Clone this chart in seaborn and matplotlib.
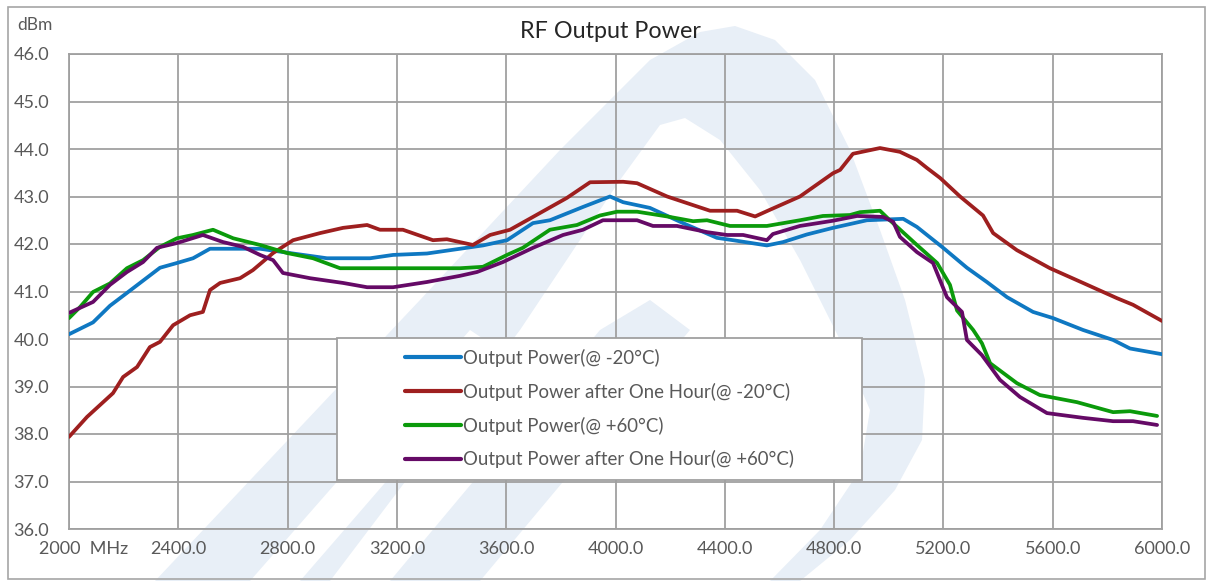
import numpy as np
import pandas as pd
import matplotlib
matplotlib.use('Agg')
import matplotlib.pyplot as plt
import matplotlib.transforms as mtransforms
from matplotlib.patches import Polygon, Rectangle
import seaborn as sns

# series names
labels = ['Output Power(@ -20°C)',
          'Output Power after One Hour(@ -20°C)',
          'Output Power(@ +60°C)',
          'Output Power after One Hour(@ +60°C)']

# Output Power @ -20C
freq_a = [2000, 2088, 2150, 2212, 2333, 2395, 2454, 2516, 2699, 2820, 2944, 3102, 3186, 3310,
          3431, 3515, 3603, 3698, 3760, 3881, 3980, 4028, 4126, 4247, 4371, 4430, 4554, 4613,
          4700, 4796, 4920, 5053, 5103, 5199, 5286, 5359, 5433, 5528, 5601, 5711, 5821, 5883, 6000]
pwr_a = [40.1, 40.35, 40.7, 40.97, 41.5, 41.6, 41.7, 41.9, 41.9, 41.8, 41.7, 41.7, 41.77, 41.8,
         41.9, 41.97, 42.08, 42.44, 42.5, 42.78, 43.0, 42.88, 42.76, 42.44, 42.13, 42.08, 41.97, 42.04,
         42.2, 42.34, 42.5, 42.53, 42.36, 41.92, 41.5, 41.2, 40.88, 40.57, 40.44, 40.19, 39.98, 39.8, 39.68]

# after one hour @ -20C
freq_b = [2000, 2066, 2161, 2198, 2249, 2296, 2333, 2381, 2443, 2490, 2516, 2553, 2626, 2673,
          2747, 2820, 2919, 3003, 3091, 3138, 3222, 3332, 3383, 3478, 3541, 3614, 3698, 3822,
          3907, 4028, 4079, 4189, 4346, 4445, 4511, 4565, 4675, 4796, 4822, 4869, 4968, 5041,
          5103, 5140, 5188, 5261, 5345, 5382, 5469, 5590, 5711, 5835, 5894, 6000]
pwr_b = [37.94, 38.36, 38.86, 39.2, 39.41, 39.83, 39.94, 40.29, 40.5, 40.57, 41.03, 41.18, 41.28, 41.45,
         41.81, 42.08, 42.23, 42.34, 42.4, 42.3, 42.3, 42.08, 42.1, 41.98, 42.19, 42.3, 42.57, 42.97,
         43.3, 43.31, 43.28, 43.0, 42.7, 42.7, 42.58, 42.72, 43.0, 43.49, 43.56, 43.9, 44.02, 43.94,
         43.77, 43.6, 43.39, 43.0, 42.6, 42.23, 41.87, 41.49, 41.18, 40.86, 40.72, 40.38]

# Output Power @ +60C
freq_c = [2000, 2040, 2088, 2150, 2212, 2271, 2333, 2395, 2454, 2527, 2601, 2699, 2798, 2893,
          2992, 3186, 3431, 3515, 3603, 3661, 3760, 3859, 3943, 4006, 4079, 4189, 4284, 4335,
          4419, 4554, 4675, 4759, 4858, 4895, 4968, 5004, 5103, 5177, 5224, 5250, 5309, 5341,
          5371, 5469, 5553, 5689, 5821, 5883, 5982]
pwr_c = [40.44, 40.67, 40.99, 41.17, 41.49, 41.66, 41.94, 42.12, 42.19, 42.3, 42.12, 41.98, 41.81, 41.7,
         41.49, 41.49, 41.49, 41.52, 41.77, 41.92, 42.3, 42.4, 42.6, 42.68, 42.68, 42.58, 42.48, 42.5,
         42.38, 42.38, 42.5, 42.59, 42.61, 42.67, 42.7, 42.5, 41.98, 41.6, 41.14, 40.6, 40.19, 39.91,
         39.49, 39.07, 38.82, 38.67, 38.46, 38.48, 38.38]

# after one hour @ +60C
freq_d = [2000, 2088, 2150, 2212, 2271, 2322, 2395, 2490, 2564, 2637, 2699, 2747, 2783, 2882,
          3003, 3091, 3186, 3310, 3431, 3493, 3588, 3698, 3808, 3881, 3954, 4079, 4137, 4225,
          4335, 4408, 4467, 4554, 4576, 4675, 4796, 4884, 4979, 5016, 5041, 5103, 5162, 5213,
          5268, 5286, 5341, 5407, 5480, 5579, 5711, 5821, 5894, 5982]
pwr_d = [40.55, 40.78, 41.14, 41.41, 41.62, 41.92, 42.02, 42.19, 42.04, 41.94, 41.77, 41.66, 41.39, 41.28,
         41.18, 41.09, 41.09, 41.2, 41.33, 41.41, 41.62, 41.92, 42.19, 42.3, 42.5, 42.5, 42.38, 42.38,
         42.25, 42.19, 42.19, 42.08, 42.21, 42.38, 42.49, 42.59, 42.57, 42.47, 42.15, 41.83, 41.6, 40.88,
         40.57, 39.98, 39.66, 39.14, 38.78, 38.44, 38.34, 38.27, 38.27, 38.19]

colors = ['#0f78c2', '#9e1f1f', '#0b9a0b', '#650a66']

x_ticks = [2000, 2400, 2800, 3200, 3600, 4000, 4400, 4800, 5200, 5600, 6000]
x_labels = ['2000  MHz'] + ['%.1f' % v for v in x_ticks[1:]]
y_ticks = np.arange(36, 47, 1)

frames = []
for lab, f, p in zip(labels, [freq_a, freq_b, freq_c, freq_d], [pwr_a, pwr_b, pwr_c, pwr_d]):
    frames.append(pd.DataFrame({'freq': f, 'dBm': p, 'series': lab}))
df = pd.concat(frames, ignore_index=True)

sns.set_theme(style='white')
plt.rcParams['font.family'] = ['Lato', 'DejaVu Sans']

W, H = 1213, 581
fig = plt.figure(figsize=(W / 100, H / 100), dpi=100)
fig.patch.set_facecolor('white')

def px(pts):
    return [(x / W, 1 - y / H) for x, y in pts]

# faint watermark logo behind the chart
wm = '#e8eff7'
for pts, fc in [
    ([(155, 581), (420, 300), (560, 150), (650, 60), (700, 32), (735, 26), (775, 40), (815, 80),
      (850, 150), (880, 230), (905, 300), (925, 380), (922, 440), (895, 490), (850, 540), (800, 581)], wm),
    ([(330, 581), (520, 330), (620, 180), (660, 125), (685, 118), (720, 140), (760, 190), (800, 260),
      (840, 340), (870, 410), (860, 470), (820, 530), (770, 581)], 'white'),
    ([(250, 581), (470, 330), (500, 350), (300, 581)], 'white'),
    ([(390, 581), (600, 330), (650, 300), (690, 330), (480, 581)], wm),
]:
    fig.patches.append(Polygon(px(pts), closed=True, transform=fig.transFigure,
                               facecolor=fc, edgecolor='none', zorder=-3))

# outer chart border
fig.patches.append(Rectangle((8 / W, 1 - 579 / H), (1205 - 8) / W, (579 - 7) / H,
                             transform=fig.transFigure, facecolor='none', edgecolor='#a6a6a6', lw=1.2, zorder=-2))

ax = fig.add_axes([69 / W, 1 - 529 / H, (1162 - 69) / W, (529 - 54) / H])
ax.patch.set_alpha(0)

sns.lineplot(data=df, x='freq', y='dBm', hue='series', palette=colors, hue_order=labels,
             estimator=None, sort=False, linewidth=2.7, ax=ax, legend=False, zorder=3)

ax.set_xlim(2000, 6000)
ax.set_ylim(36, 46)
ax.set_xticks(x_ticks)
ax.set_xticklabels(x_labels)
ax.set_yticks(y_ticks)
ax.set_yticklabels(['%.1f' % v for v in y_ticks])
ax.set_xlabel('')
ax.set_ylabel('')
ax.grid(True, color='#a0a0a0', linewidth=1.3)
for s in ax.spines.values():
    s.set_color('#a0a0a0')
    s.set_linewidth(1.3)
ax.tick_params(axis='both', length=0, labelsize=13, labelcolor='#595959')
ax.tick_params(axis='y', pad=40)
ax.tick_params(axis='x', pad=9)
for t in ax.get_yticklabels():
    t.set_horizontalalignment('left')
first = ax.get_xticklabels()[0]
first.set_transform(first.get_transform() + mtransforms.ScaledTranslation(15 / 100, 0, fig.dpi_scale_trans))

fig.text(610 / W, 1 - 32 / H, 'RF Output Power', ha='center', va='center', fontsize=16.8, color='#262626')
fig.text(17 / W, 1 - 25 / H, 'dBm', ha='left', va='center', fontsize=12.5, color='#595959')

# legend box
fig.patches.append(Rectangle((337 / W, 1 - 480 / H), (862 - 337) / W, (480 - 338) / H,
                             transform=fig.transFigure, facecolor='white', edgecolor='#a0a0a0', lw=1.3, zorder=4))
handles = [plt.Line2D([], [], color=c, lw=3) for c in colors]
leg = fig.legend(handles, labels, loc='upper left', bbox_to_anchor=(388 / W, 1 - 332 / H),
                 frameon=False, fontsize=13.4, handlelength=3.0, handletextpad=0.15, labelspacing=0.85,
                 labelcolor='#595959')
leg.set_zorder(5)

fig.savefig('out.png', dpi=100)
